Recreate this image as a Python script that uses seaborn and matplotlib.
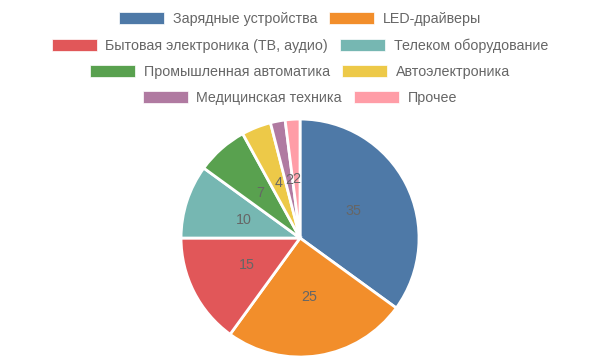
import matplotlib.pyplot as plt
from matplotlib.patches import Patch
import seaborn as sns

CATEGORIES = [
    'Зарядные устройства',
    'LED-драйверы',
    'Бытовая электроника (ТВ, аудио)',
    'Телеком оборудование',
    'Промышленная автоматика',
    'Автоэлектроника',
    'Медицинская техника',
    'Прочее',
]
SHARES = [35, 25, 15, 10, 7, 4, 2, 2]
COLORS = ['#4e79a7', '#f28e2b', '#e15759', '#76b7b2',
          '#59a14f', '#edc948', '#b07aa1', '#ff9da7']
TEXT_COLOR = '#666666'

sns.set_theme(style='white')
plt.rcParams['font.family'] = ['Liberation Sans', 'DejaVu Sans']

fig = plt.figure(figsize=(6, 3.6), dpi=100)
ax = fig.add_axes([0.3017, 0.0083, 0.3967, 0.661])

total = sum(SHARES)
wedges, _, autotexts = ax.pie(
    SHARES,
    colors=COLORS,
    startangle=90,
    counterclock=False,
    autopct=lambda p: '{:d}'.format(int(round(p * total / 100))),
    pctdistance=0.5,
    wedgeprops=dict(edgecolor='white', linewidth=2),
    textprops=dict(color=TEXT_COLOR, fontsize=10.3),
)
for w in wedges:
    w.set_clip_on(False)
ax.set_xlim(-1, 1)
ax.set_ylim(-1, 1)
ax.set_aspect('equal')

# chart.js-style legend: each row centred on its own
row_y = [19, 46, 72, 98]
for i, y in enumerate(row_y):
    idx = [2 * i, 2 * i + 1]
    handles = [Patch(facecolor=COLORS[j], edgecolor='white', linewidth=0.5) for j in idx]
    labels = [CATEGORIES[j] for j in idx]
    fig.legend(
        handles, labels,
        loc='center', bbox_to_anchor=(0.5, 1 - y / 360),
        ncol=2, frameon=False, fontsize=10.3,
        labelcolor=TEXT_COLOR,
        handlelength=3.15, handleheight=0.89,
        handletextpad=0.59, columnspacing=0.85,
        borderaxespad=0, borderpad=0,
    )

fig.savefig('out.png', dpi=100)
